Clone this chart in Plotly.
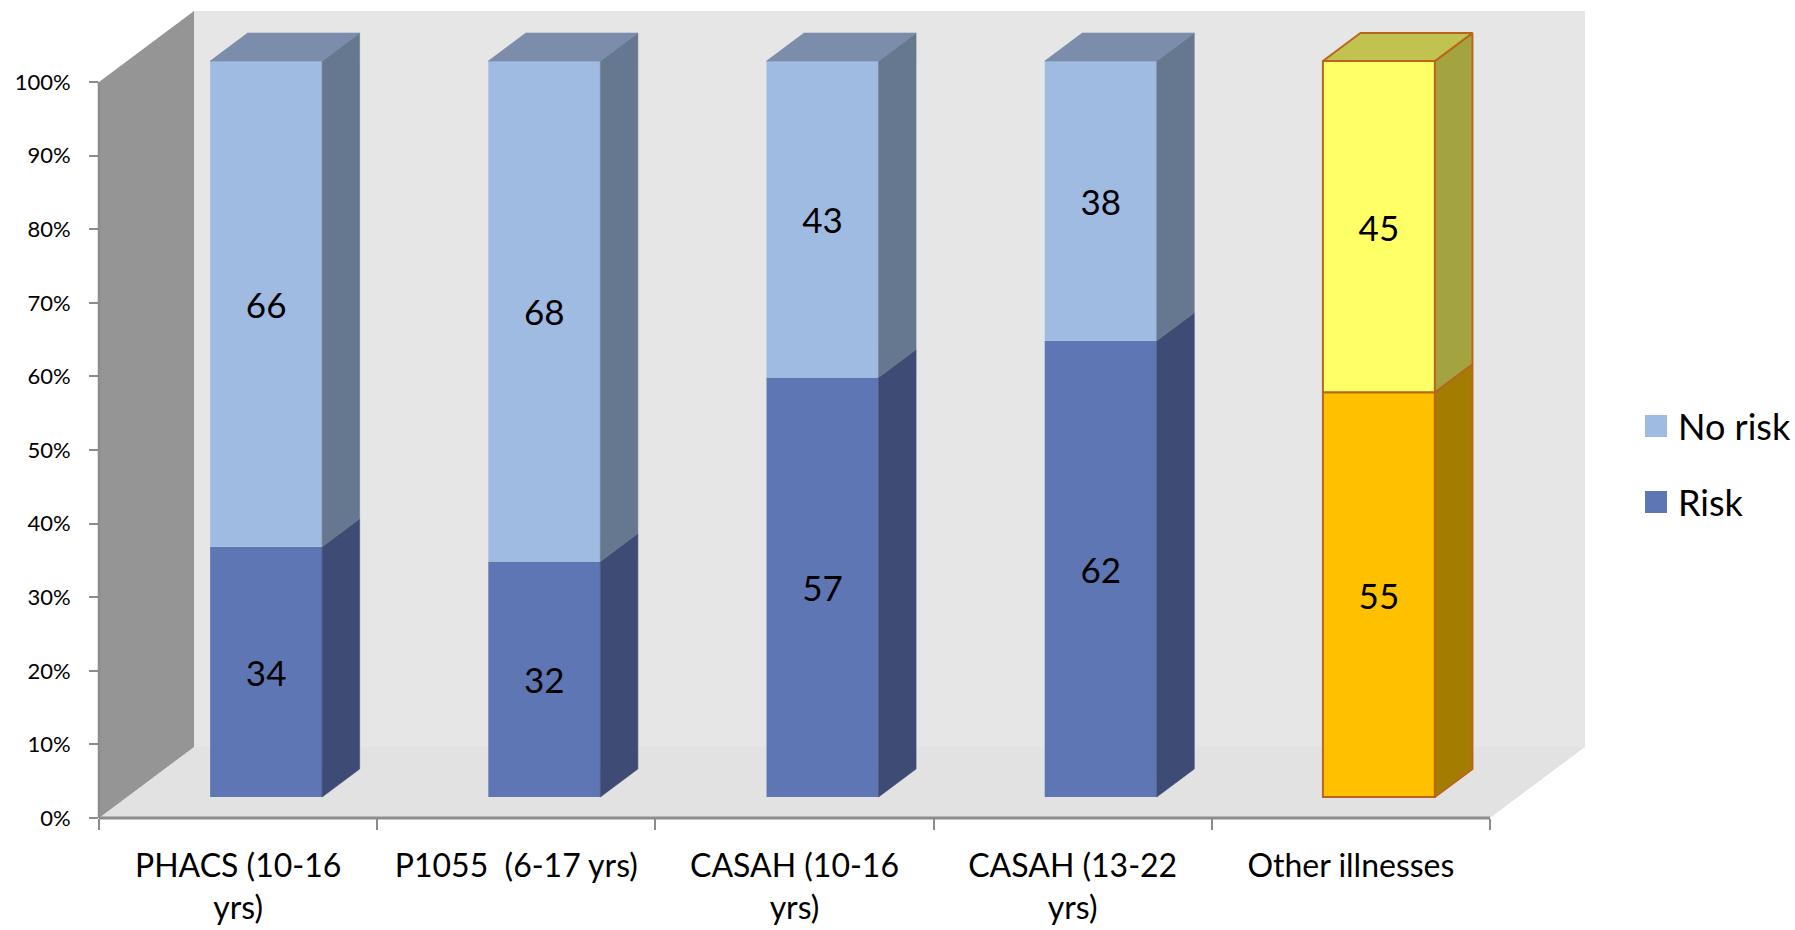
import plotly.graph_objects as go

# ---------------- data ----------------
categories = ["PHACS (10-16<br>yrs)", "P1055 \u00a0(6-17 yrs)", "CASAH (10-16<br>yrs)",
              "CASAH (13-22<br>yrs)", "Other illnesses"]
risk = [34, 32, 57, 62, 55]
no_risk = [66, 68, 43, 38, 45]
y_tick_vals = [0, 10, 20, 30, 40, 50, 60, 70, 80, 90, 100]
y_tick_text = ["0%", "10%", "20%", "30%", "40%", "50%", "60%", "70%", "80%", "90%", "100%"]
series_names = ["No risk", "Risk"]

# ---------------- styles ----------------
W, H = 1795, 930
ML, MR, MT, MB = 99, 210, 11, 112
DX, DY = 0.3415, 9.65          # depth of the 3D box (x units, y %)
BAR_W = 0.4026
FRONT, BACK = 0.295, 0.69      # bar depth position as fraction of box depth
FONT = "Lato, 'Open Sans', sans-serif"
AXIS_C = "#8C8C8C"

risk_front = ["#5F76B4"] * 4 + ["#FFC000"]
risk_side = ["#3D4B75"] * 4 + ["#A37C00"]
risk_top = ["#4A5C8E"] * 4 + ["#C29A10"]
nor_front = ["#A0BBE2"] * 4 + ["#FFFF66"]
nor_side = ["#66788F"] * 4 + ["#A3A33F"]
nor_top = ["#7B8DAA"] * 4 + ["#C2C250"]
outline_c = [None] * 4 + ["#B8661C"]

n = len(categories)
xmin, xmax = -0.5, n - 0.5 + DX
ymin, ymax = 0, 100 + DY

fig = go.Figure()

ox, oy = FRONT * DX, FRONT * DY
ddx, ddy = (BACK - FRONT) * DX, (BACK - FRONT) * DY

# side and top faces
for i in range(n):
    xc = i + ox
    xl, xr = xc - BAR_W / 2, xc + BAR_W / 2
    segs = [(0, risk[i], risk_side[i], risk_top[i]),
            (risk[i], no_risk[i], nor_side[i], nor_top[i])]
    for k, (b, v, sc, tc) in enumerate(segs):
        y0, y1 = oy + b, oy + b + v
        lc = outline_c[i] or sc
        lw = 2 if outline_c[i] else 0.6
        fig.add_trace(go.Scatter(
            x=[xr, xr + ddx, xr + ddx, xr, xr],
            y=[y0, y0 + ddy, y1 + ddy, y1, y0],
            mode="lines", fill="toself", fillcolor=sc,
            line=dict(color=lc, width=lw), showlegend=False, hoverinfo="skip"))
        if k == len(segs) - 1:
            lc2 = outline_c[i] or tc
            fig.add_trace(go.Scatter(
                x=[xl, xl + ddx, xr + ddx, xr, xl],
                y=[y1, y1 + ddy, y1 + ddy, y1, y1],
                mode="lines", fill="toself", fillcolor=tc,
                line=dict(color=lc2, width=lw), showlegend=False, hoverinfo="skip"))

xs = [i + ox for i in range(n)]
fig.add_trace(go.Bar(
    name="Risk", x=xs, y=risk, base=[oy] * n, width=BAR_W,
    marker=dict(color=risk_front,
                line=dict(color=[c or f for c, f in zip(outline_c, risk_front)],
                          width=[2 if c else 0 for c in outline_c])),
    text=[str(v) for v in risk], textposition="inside", insidetextanchor="middle",
    textangle=0, constraintext="none",
    textfont=dict(family=FONT, size=35, color="black"), showlegend=False))
fig.add_trace(go.Bar(
    name="No risk", x=xs, y=no_risk, base=[oy + r for r in risk], width=BAR_W,
    marker=dict(color=nor_front,
                line=dict(color=[c or f for c, f in zip(outline_c, nor_front)],
                          width=[2 if c else 0 for c in outline_c])),
    text=[str(v) for v in no_risk], textposition="inside", insidetextanchor="middle",
    textangle=0, constraintext="none",
    textfont=dict(family=FONT, size=35, color="black"), showlegend=False))

# walls (box)
shapes = [
    dict(type="path", xref="x", yref="y", layer="below", line=dict(width=0),
         fillcolor="#E6E6E6",
         path=f"M{xmin+DX},{DY} L{xmax},{DY} L{xmax},{ymax} L{xmin+DX},{ymax} Z"),
    dict(type="path", xref="x", yref="y", layer="below", line=dict(width=0),
         fillcolor="#E2E2E2",
         path=f"M{xmin},0 L{n-0.5},0 L{xmax},{DY} L{xmin+DX},{DY} Z"),
    dict(type="path", xref="x", yref="y", layer="below", line=dict(width=0),
         fillcolor="#959595",
         path=f"M{xmin},0 L{xmin+DX},{DY} L{xmin+DX},{ymax} L{xmin},100 Z"),
]
# axis lines in paper coords
def xp(x):
    return (x - xmin) / (xmax - xmin)
def yp(y):
    return (y - ymin) / (ymax - ymin)
shapes.append(dict(type="line", xref="paper", yref="paper", x0=0, x1=xp(n - 0.5), y0=0, y1=0,
                   line=dict(color=AXIS_C, width=3), layer="above"))
shapes.append(dict(type="line", xref="paper", yref="paper", x0=0, x1=0, y0=0, y1=yp(100),
                   line=dict(color=AXIS_C, width=2.5), layer="above"))

# manual legend
PW, PH = W - ML - MR, H - MT - MB
def pxp(px):
    return (px - ML) / PW
def pyp(py):
    return (H - MB - py) / PH
annotations = []
leg_items = [("No risk", nor_front[0], 426), ("Risk", risk_front[0], 502)]
for name, col, cy in leg_items:
    shapes.append(dict(type="rect", xref="paper", yref="paper",
                       x0=pxp(1645), x1=pxp(1667), y0=pyp(cy - 11), y1=pyp(cy + 11),
                       fillcolor=col, line=dict(width=0)))
    annotations.append(dict(xref="paper", yref="paper", x=pxp(1676), y=pyp(cy),
                            xanchor="left", yanchor="middle", text=name, showarrow=False,
                            font=dict(family=FONT, size=36, color="black")))

fig.update_layout(
    width=W, height=H, autosize=False,
    margin=dict(l=ML, r=MR, t=MT, b=MB, pad=0, autoexpand=False),
    paper_bgcolor="white", plot_bgcolor="white",
    barmode="overlay", showlegend=False,
    shapes=shapes, annotations=annotations,
    xaxis=dict(range=[xmin, xmax], tickvals=list(range(n)), ticktext=categories,
               ticks="", showgrid=False, zeroline=False, showline=False, automargin=False,
               tickfont=dict(family=FONT, size=32, color="black"), ticklabelstandoff=26,
               fixedrange=True),
    xaxis2=dict(range=[xmin, xmax], overlaying="x", anchor="y", side="bottom",
                tickvals=[i - 0.5 for i in range(n + 1)], ticks="outside", ticklen=11,
                tickwidth=2, tickcolor=AXIS_C, showticklabels=False, showgrid=False,
                zeroline=False, showline=False, automargin=False),
    yaxis=dict(range=[ymin, ymax], tickvals=y_tick_vals, ticktext=y_tick_text,
               ticks="outside", ticklen=9, tickwidth=2, tickcolor=AXIS_C, automargin=False,
               showgrid=False, zeroline=False, showline=False,
               tickfont=dict(family=FONT, size=22, color="black"), ticklabelstandoff=14),
)
fig.add_trace(go.Scatter(x=[xmin], y=[ymin], xaxis="x2", yaxis="y", mode="markers",
                         marker=dict(size=0.1, opacity=0), showlegend=False, hoverinfo="skip"))

fig.write_html("out.html")
